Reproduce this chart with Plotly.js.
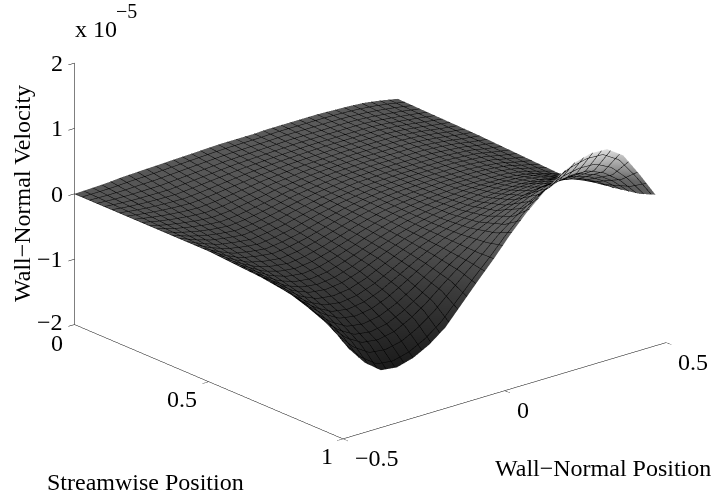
<!DOCTYPE html>
<html><head><meta charset="utf-8">
<script src="https://cdn.plot.ly/plotly-3.0.1.min.js"></script>
<style>html,body{margin:0;padding:0;background:#fff}#chart{width:715px;height:497px}</style>
</head><body><div id="chart"></div>
<script>
const streamwise = [0,0.1,0.2,0.3,0.4,0.5,0.6,0.7,0.8,0.9,0.96];
const wallNormal = [-0.5,-0.45,-0.4,-0.35,-0.3,-0.25,-0.2,-0.15,-0.1,-0.05,0,0.05,0.1,0.15,0.2,0.25,0.3,0.35,0.4,0.45,0.5];
const row00 = [0,.01,.02,.04,.05,.06,.07,.08,.09,.1,.1,.1,.11,.11,.11,.11,.1,.09,.07,.03,-.02];
const row01 = [0,-.02,-.03,-.03,-.03,-.01,.01,.03,.05,.06,.07,.08,.09,.09,.09,.09,.09,.07,.04,.01,-.03];
const row02 = [0,-.04,-.07,-.09,-.1,-.08,-.05,-.02,.01,.03,.05,.06,.07,.08,.08,.08,.08,.06,.03,-.01,-.04];
const row03 = [0,-.07,-.12,-.16,-.18,-.16,-.12,-.08,-.03,0,.03,.05,.06,.07,.07,.07,.07,.05,.02,-.02,-.05];
const row04 = [0,-.1,-.18,-.22,-.25,-.22,-.18,-.12,-.07,-.02,.01,.04,.05,.06,.06,.06,.06,.04,.02,-.03,-.07];
const row05 = [0,-.14,-.25,-.3,-.33,-.3,-.25,-.18,-.11,-.05,0,.03,.05,.06,.07,.07,.07,.05,.02,-.04,-.09];
const row06 = [-.03,-.18,-.32,-.4,-.43,-.4,-.33,-.25,-.16,-.08,-.02,.02,.05,.07,.09,.09,.09,.08,.04,-.03,-.11];
const row07 = [-.06,-.24,-.42,-.52,-.55,-.52,-.44,-.33,-.22,-.12,-.04,.02,.07,.11,.15,.18,.19,.18,.14,.06,-.02];
const row08 = [-.12,-.36,-.56,-.7,-.74,-.7,-.6,-.46,-.31,-.17,-.05,.05,.14,.22,.29,.34,.37,.36,.3,.18,.02];
const row09 = [-.25,-.56,-.82,-.97,-1,-.95,-.82,-.65,-.44,-.24,-.06,.14,.3,.44,.56,.66,.7,.69,.58,.38,.1];
const row10 = [-.35,-.76,-1.05,-1.24,-1.27,-1.2,-1.07,-.88,-.6,-.32,-.05,.24,.5,.72,.92,1.05,1.12,1.11,.94,.58,.19];
const velocity = [row00,row01,row02,row03,row04,row05,row06,row07,row08,row09,row10];
const zTicks = [-2,-1,0,1,2];
const zTickText = ['\u22122','\u22121','0','1','2'];
const sTicks = [0,0.5,1];
const sTickText = ['0','0.5','1'];
const wTicks = [-0.5,0,0.5];
const wTickText = ['\u22120.5','0','0.5'];
const serif = 'Liberation Serif, Times New Roman, serif';
const tickFont = {family:serif,size:24,color:'#000'};
const axisBase = {showgrid:false,zeroline:false,showbackground:false,showspikes:false,showline:true,
  linecolor:'#000',linewidth:1,ticks:'outside',ticklen:8,tickcolor:'#000',tickwidth:1,
  showticklabels:false,title:{text:''}};
const trace = {type:'surface',x:streamwise,y:wallNormal,z:wallNormal.map((_,j)=>velocity.map(r=>r[j])),
  colorscale:[[0,'#000'],[0.06,'#1c1c1c'],[0.3,'#3a3a3a'],[0.467,'#565656'],[0.6,'#666666'],[0.72,'#a8a8a8'],[0.83,'#dedede'],[1,'#fff']],
  cmin:-1.43,cmax:1.63,showscale:false,
  lighting:{ambient:1,diffuse:0,specular:0,roughness:1,fresnel:0},
  contours:{
   x:{show:true,start:0,end:1,size:1/36,color:'#000',width:2},
   y:{show:true,start:-0.5,end:0.5,size:1/36,color:'#000',width:2},
   z:{show:false}},
  hoverinfo:'skip'};
const eyeDir = [0.716,-0.599,0.356], dist = 2.2, ctr = [0.0169,-0.0818,-0.1718];
const lbl = (x,y,z,text,dx,dy)=>({x,y,z,text,xshift:dx,yshift:dy,showarrow:false,xanchor:'center',yanchor:'middle',font:tickFont});
const zShift = [[-25,3],[-25,0],[-18,0],[-18,0],[-18,0]];
const sShift = [[-18,-18],[-27,-17],[-16,-17]];
const wShift = [[34,-19],[18,-19],[27,-19]];
const sceneAnn = [
  ...zTicks.map((v,i)=>lbl(0,-0.5,v,zTickText[i],zShift[i][0],zShift[i][1])),
  ...sTicks.map((v,i)=>lbl(v,-0.5,-2,sTickText[i],sShift[i][0],sShift[i][1])),
  ...wTicks.map((v,i)=>lbl(1,v,-2,wTickText[i],wShift[i][0],wShift[i][1]))
];
const paperText = (px,py,text,extra)=>Object.assign({xref:'paper',yref:'paper',x:px/715,y:1-py/497,text,showarrow:false,
  xanchor:'center',yanchor:'middle',font:{family:serif,size:24,color:'#000'}},extra||{});
const layout = {width:715,height:497,margin:{l:0,r:0,t:0,b:0},paper_bgcolor:'#fff',showlegend:false,
  scene:{domain:{x:[0,1],y:[0,1]},
   camera:{projection:{type:'orthographic'},
     eye:{x:ctr[0]+eyeDir[0]*dist,y:ctr[1]+eyeDir[1]*dist,z:ctr[2]+eyeDir[2]*dist},
     center:{x:ctr[0],y:ctr[1],z:ctr[2]},up:{x:0,y:0,z:1}},
   aspectmode:'manual',aspectratio:{x:1.684,y:1.696,z:1.126},
   xaxis:Object.assign({},axisBase,{range:[0,1],tickvals:sTicks}),
   yaxis:Object.assign({},axisBase,{range:[-0.5,0.5],tickvals:wTicks}),
   zaxis:Object.assign({},axisBase,{range:[-2,2],tickvals:zTicks}),
   annotations:sceneAnn},
  annotations:[
   paperText(73,29,'x 10',{xanchor:'left'}),
   paperText(114,11,'\u22125',{xanchor:'left',font:{family:serif,size:20,color:'#000'}}),
   paperText(22,194,'Wall\u2212Normal Velocity',{textangle:-90}),
   paperText(145,482,'Streamwise Position'),
   paperText(603,468,'Wall\u2212Normal Position')
  ]};
Plotly.newPlot('chart',[trace],layout,{displayModeBar:false});
</script></body></html>
